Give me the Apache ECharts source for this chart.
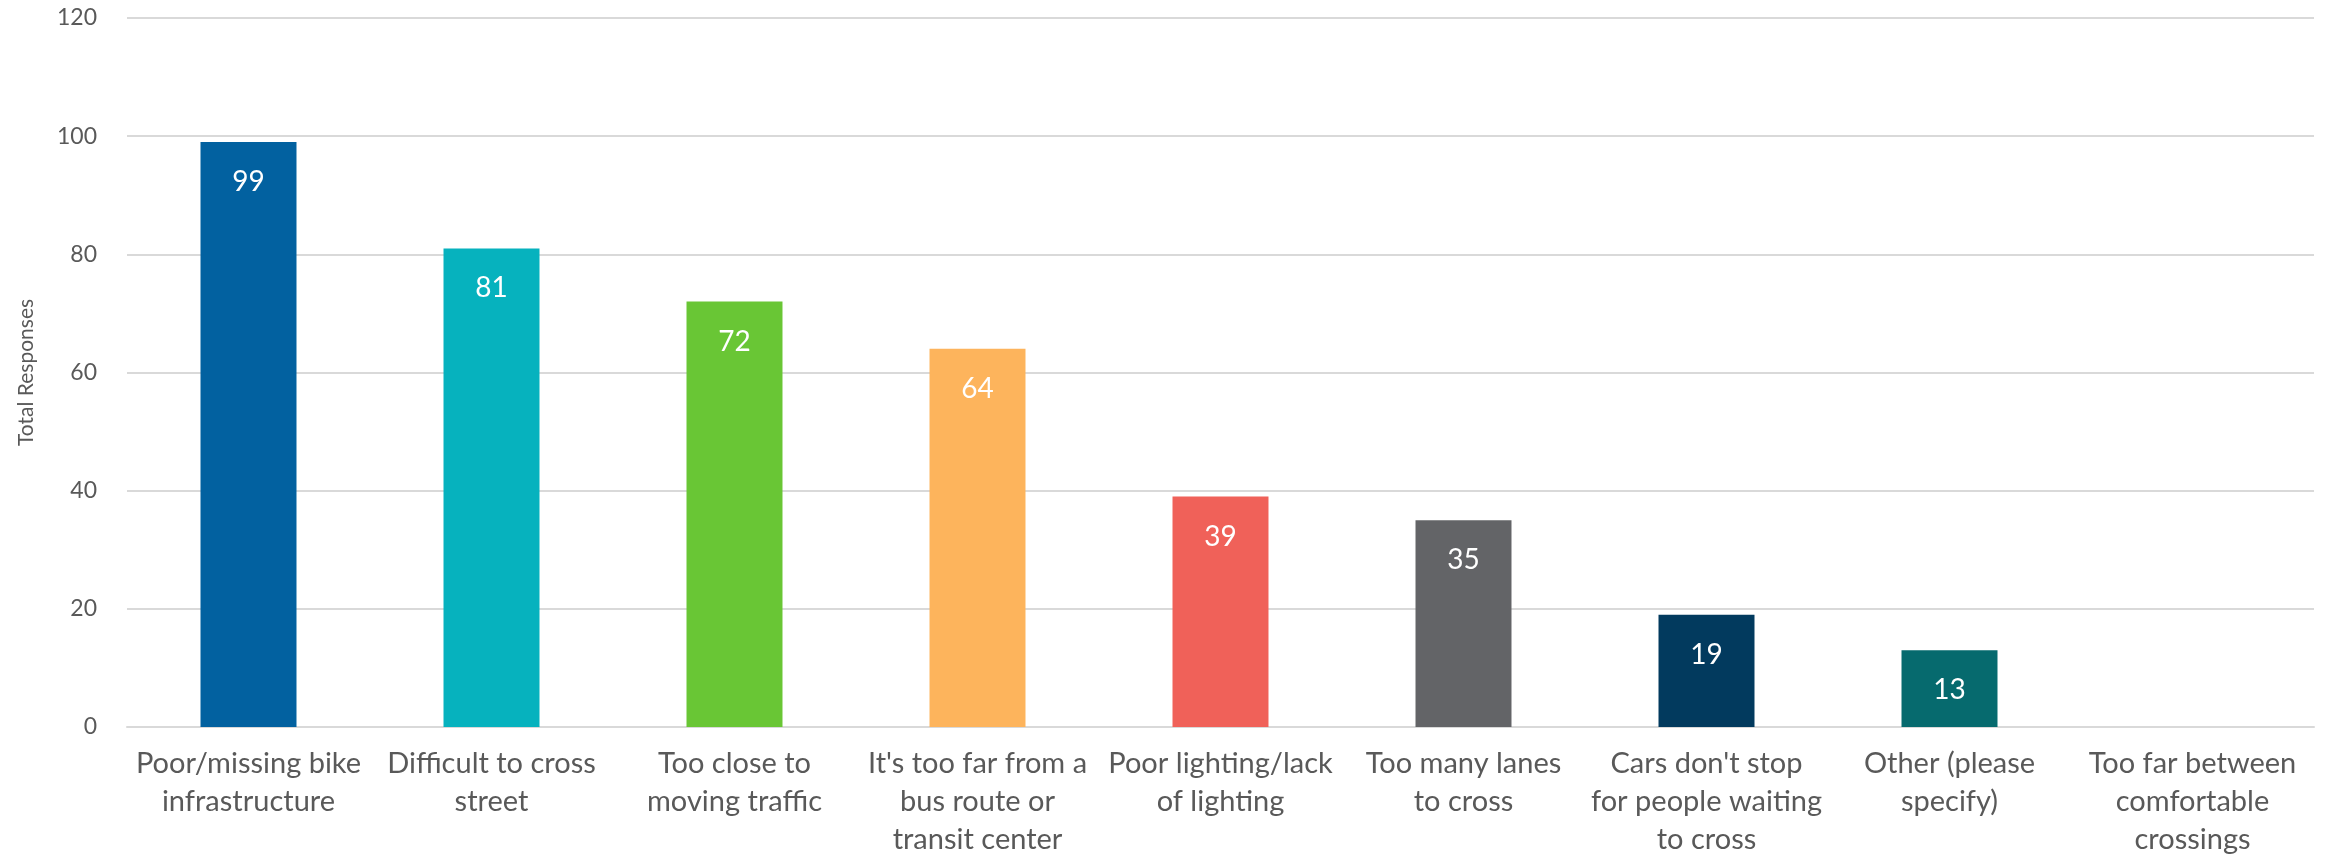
<!DOCTYPE html>
<html>
<head>
<meta charset="utf-8">
<script src="https://cdn.jsdelivr.net/npm/echarts@6/dist/echarts.min.js"></script>
<style>
  html, body { margin: 0; padding: 0; background: #ffffff; }
  #chart { width: 2331px; height: 862px; }
</style>
</head>
<body>
<div id="chart"></div>
<script>
// Reasons given for not biking, by number of responses
const categories = [
  "Poor/missing bike\ninfrastructure",
  "Difficult to cross\nstreet",
  "Too close to\nmoving traffic",
  "It's too far from a\nbus route or\ntransit center",
  "Poor lighting/lack\nof lighting",
  "Too many lanes\nto cross",
  "Cars don't stop\nfor people waiting\nto cross",
  "Other (please\nspecify)",
  "Too far between\ncomfortable\ncrossings"
];
const responses = [99, 81, 72, 64, 39, 35, 19, 13, 0];
const barColors = ["#0261A0", "#06B2BE", "#69C635", "#FDB45C", "#F06159", "#636467", "#023A5E", "#066A6E", "#999999"];
const yTicks = { min: 0, max: 120, interval: 20 };
const yAxisTitle = "Total Responses";

const chart = echarts.init(document.getElementById('chart'));
chart.setOption({
  animation: false,
  backgroundColor: '#ffffff',
  grid: { left: 127, right: 17, top: 18, bottom: 135, containLabel: false },
  xAxis: {
    type: 'category',
    data: categories,
    axisLine: { show: true, lineStyle: { color: '#D9D9D9', width: 2 } },
    axisTick: { show: false },
    axisLabel: {
      color: '#595959',
      fontFamily: 'Lato',
      fontSize: 29,
      lineHeight: 38,
      margin: 18,
      interval: 0,
      align: 'center'
    }
  },
  yAxis: {
    type: 'value',
    min: yTicks.min,
    max: yTicks.max,
    interval: yTicks.interval,
    name: yAxisTitle,
    nameLocation: 'middle',
    nameGap: 90,
    nameTextStyle: { color: '#595959', fontFamily: 'Lato', fontSize: 21 },
    axisLine: { show: false },
    axisTick: { show: false },
    splitLine: { lineStyle: { color: '#D9D9D9', width: 2 } },
    axisLabel: { color: '#595959', fontFamily: 'Lato', fontSize: 23, margin: 30 }
  },
  series: [{
    type: 'bar',
    barWidth: '39.5%',
    data: responses.map((v, i) => ({
      value: v,
      itemStyle: { color: barColors[i] },
      label: { show: v > 0 }
    })),
    label: {
      show: true,
      position: 'insideTop',
      distance: 26,
      color: '#ffffff',
      fontFamily: 'Lato',
      fontSize: 28
    }
  }]
});
</script>
</body>
</html>
